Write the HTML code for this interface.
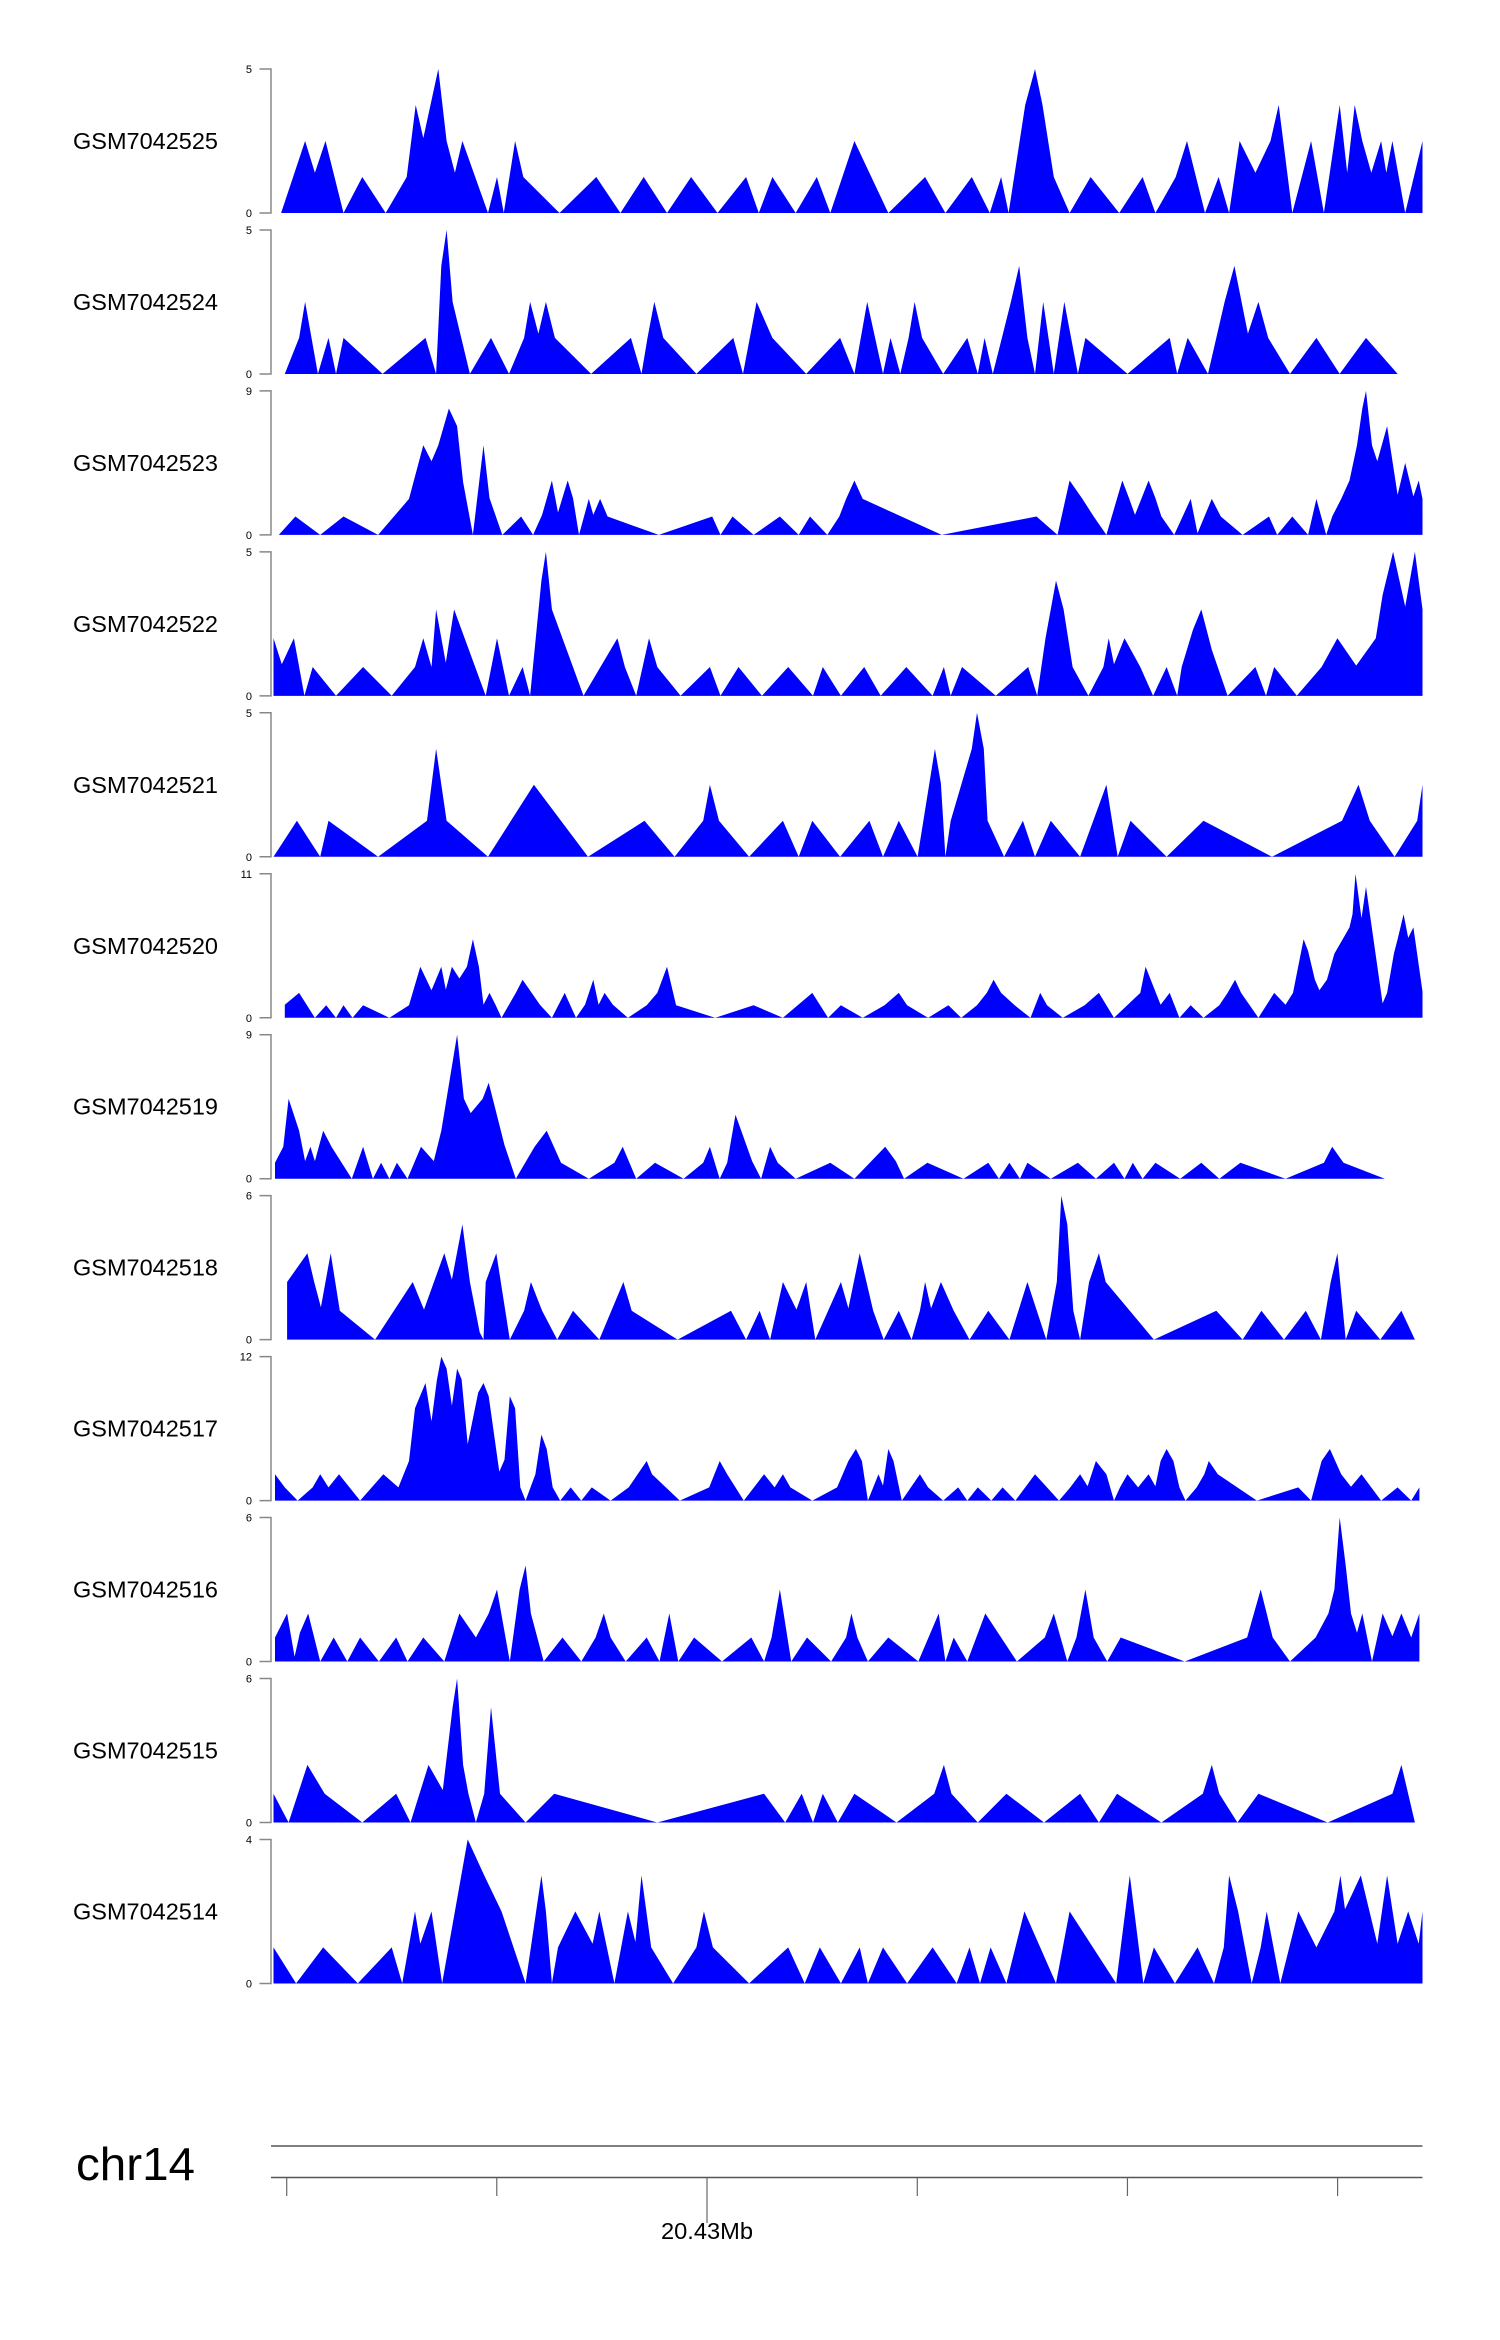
<!DOCTYPE html>
<html><head><meta charset="utf-8"><style>
html,body{margin:0;padding:0;background:#fff;}
svg{display:block;font-family:"Liberation Sans",Arial,sans-serif;}
</style></head>
<body>
<svg id="chart" width="1500" height="2340" viewBox="0 0 1500 2340" xmlns="http://www.w3.org/2000/svg"></svg>
<script>
const sampleNames = ["GSM7042525","GSM7042524","GSM7042523","GSM7042522","GSM7042521","GSM7042520","GSM7042519","GSM7042518","GSM7042517","GSM7042516","GSM7042515","GSM7042514"];
const trackMax = [5,5,9,5,5,11,9,6,12,6,6,4];
const t1 = [[28,0],[60,2.5],[73,1.4],[87,2.5],[111,0],[136,1.25],[167,0],[195,1.25],[207,3.75],[217,2.6],[237,5],[248,2.5],[259,1.4],[269,2.5],[303,0],[315,1.25],[324,0],[339,2.5],[350,1.25],[398,0],[447,1.25],[479,0],[510,1.25],[541,0],[573,1.25],[608,0],[646,1.25],[663,0],[681,1.25],[712,0],[740,1.25],[758,0],[790,2.5],[835,0],[884,1.25],[911,0],[946,1.25],[970,0],[985,1.25],[995,0],[1017,3.75],[1030,5],[1040,3.75],[1055,1.25],[1076,0],[1104,1.25],[1142,0],[1173,1.25],[1190,0],[1217,1.25],[1232,2.5],[1256,0],[1274,1.25],[1288,0],[1302,2.5],[1323,1.4],[1343,2.5],[1354,3.75],[1372,0],[1397,2.5],[1414,0],[1435,3.75],[1445,1.4],[1455,3.75],[1465,2.5],[1477,1.4],[1490,2.5],[1497,1.4],[1505,2.5],[1522,0],[1545,2.5]];
const t2 = [[33,0],[52,1.25],[60,2.5],[77,0],[91,1.25],[101,0],[111,1.25],[163,0],[220,1.25],[234,0],[241,3.75],[248,5],[256,2.5],[279,0],[307,1.25],[331,0],[351,1.25],[359,2.5],[370,1.4],[380,2.5],[392,1.25],[440,0],[493,1.25],[507,0],[515,1.25],[524,2.5],[536,1.25],[580,0],[629,1.25],[642,0],[660,2.5],[681,1.25],[726,0],[771,1.25],[790,0],[807,2.5],[828,0],[838,1.25],[851,0],[862,1.25],[870,2.5],[880,1.25],[908,0],[940,1.25],[954,0],[963,1.25],[974,0],[986,1.25],[998,2.5],[1009,3.75],[1020,1.25],[1030,0],[1041,2.5],[1055,0],[1069,2.5],[1078,1.25],[1087,0],[1097,1.25],[1153,0],[1209,1.25],[1219,0],[1233,1.25],[1260,0],[1282,2.5],[1295,3.75],[1313,1.4],[1327,2.5],[1340,1.25],[1369,0],[1404,1.25],[1435,0],[1470,1.25],[1512,0]];
const t3 = [[25,0],[47,1.15],[80,0],[111,1.15],[157,0],[198,2.25],[217,5.6],[228,4.6],[237,5.6],[251,7.9],[262,6.8],[270,3.3],[283,0],[297,5.6],[305,2.3],[322,0],[347,1.15],[363,0],[375,1.25],[388,3.4],[396,1.4],[409,3.4],[416,2.3],[424,0],[437,2.25],[443,1.25],[452,2.25],[462,1.15],[530,0],[601,1.15],[612,0],[628,1.15],[656,0],[691,1.15],[716,0],[731,1.15],[754,0],[770,1.15],[779,2.25],[790,3.4],[801,2.25],[906,0],[1032,1.15],[1060,0],[1076,3.4],[1093,2.25],[1108,1.15],[1125,0],[1146,3.4],[1155,2.3],[1163,1.25],[1181,3.4],[1190,2.3],[1198,1.15],[1215,0],[1237,2.25],[1246,0.1],[1265,2.25],[1277,1.15],[1306,0],[1341,1.15],[1352,0],[1372,1.15],[1393,0],[1404,2.25],[1417,0],[1425,1.15],[1437,2.25],[1448,3.4],[1458,5.6],[1465,7.9],[1470,9],[1478,5.6],[1485,4.6],[1498,6.8],[1512,2.5],[1522,4.5],[1533,2.4],[1540,3.4],[1545,2.25]];
const t4 = [[18,2],[29,1.1],[45,2],[59,0],[70,1],[101,0],[137,1],[175,0],[206,1],[217,2],[228,1],[234,3],[247,1.15],[258,3],[300,0],[315,2],[331,0],[349,1],[359,0],[374,4],[380,5],[388,3],[430,0],[475,2],[485,1],[500,0],[517,2],[528,1],[559,0],[598,1],[612,0],[636,1],[667,0],[702,1],[735,0],[748,1],[772,0],[803,1],[825,0],[859,1],[894,0],[909,1],[918,0],[933,1],[978,0],[1021,1],[1033,0],[1044,2],[1058,4],[1068,3],[1080,1],[1101,0],[1121,1],[1128,2],[1135,1.1],[1149,2],[1170,1],[1187,0],[1205,1],[1219,0],[1225,1],[1240,2.3],[1251,3],[1265,1.6],[1286,0],[1323,1],[1337,0],[1348,1],[1378,0],[1411,1],[1432,2],[1457,1.05],[1483,2],[1492,3.5],[1506,5],[1522,3.1],[1535,5],[1545,3]];
const t5 = [[18,0],[49,1.25],[80,0],[91,1.25],[157,0],[222,1.25],[234,3.75],[248,1.25],[303,0],[364,2.5],[436,0],[511,1.25],[551,0],[589,1.25],[598,2.5],[610,1.25],[650,0],[695,1.25],[716,0],[734,1.25],[771,0],[810,1.25],[828,0],[849,1.25],[874,0],[897,3.75],[905,2.55],[911,0],[918,1.25],[946,3.75],[953,5],[962,3.75],[967,1.25],[989,0],[1014,1.25],[1030,0],[1051,1.25],[1090,0],[1125,2.5],[1140,0],[1157,1.25],[1205,0],[1254,1.25],[1345,0],[1438,1.25],[1460,2.5],[1475,1.25],[1508,0],[1538,1.25],[1545,2.5]];
const t6 = [[33,1],[52,1.9],[73,0],[88,0.95],[101,0],[111,0.95],[123,0],[137,0.95],[172,0],[198,0.95],[213,3.9],[228,2.1],[241,3.9],[247,2.15],[255,3.9],[265,3],[275,3.9],[283,6],[291,3.9],[297,1],[305,1.9],[313,1],[321,0],[340,1.9],[349,2.9],[372,1],[388,0],[405,1.9],[420,0],[432,1],[443,2.9],[450,1],[458,1.9],[469,1],[489,0],[514,0.95],[528,1.9],[541,3.9],[553,0.95],[605,0],[656,0.95],[695,0],[734,1.9],[755,0],[772,0.95],[801,0],[830,0.95],[849,1.9],[860,0.95],[888,0],[915,0.95],[932,0],[953,0.95],[966,1.9],[975,2.9],[985,1.9],[1003,0.95],[1024,0],[1037,1.9],[1046,0.95],[1067,0],[1096,0.95],[1115,1.9],[1135,0],[1170,1.9],[1177,3.9],[1197,1],[1209,1.9],[1222,0],[1237,0.95],[1254,0],[1275,0.95],[1286,1.9],[1296,2.9],[1304,1.9],[1327,0],[1348,1.9],[1363,1],[1373,1.9],[1387,6],[1393,5.1],[1402,2.9],[1408,2.1],[1418,2.9],[1428,4.9],[1448,6.9],[1452,7.9],[1456,11],[1464,7.6],[1470,10],[1492,1.1],[1498,1.9],[1507,4.9],[1512,6],[1520,7.9],[1526,6.1],[1533,6.9],[1545,2]];
const t7 = [[20,1],[31,2],[38,5],[52,3],[60,1.1],[67,2],[73,1.1],[84,3],[95,2],[122,0],[137,2],[150,0],[161,1],[172,0],[182,1],[196,0],[214,2],[231,1.1],[241,3],[262,9],[271,5],[280,4.1],[296,5],[304,6],[325,2.1],[340,0],[365,2],[381,3],[400,1],[437,0],[471,1],[482,2],[500,0],[525,1],[563,0],[589,1],[598,2],[611,0],[621,1],[632,4],[654,1.1],[666,0],[678,2],[688,1],[712,0],[758,1],[790,0],[831,2],[845,1.1],[856,0],[887,1],[935,0],[968,1],[982,0],[996,1],[1010,0],[1020,1],[1051,0],[1087,1],[1111,0],[1135,1],[1149,0],[1160,1],[1173,0],[1190,1],[1223,0],[1251,1],[1275,0],[1303,1],[1363,0],[1414,1],[1425,2],[1440,1],[1495,0]];
const t8 = [[36,2.4],[63,3.6],[72,2.4],[81,1.35],[94,3.6],[106,1.2],[153,0],[203,2.4],[218,1.25],[245,3.6],[255,2.5],[269,4.8],[279,2.4],[292,0.3],[297,0],[300,2.4],[314,3.6],[332,0],[351,1.2],[360,2.4],[375,1.2],[395,0],[416,1.2],[451,0],[483,2.4],[494,1.2],[555,0],[626,1.2],[646,0],[664,1.2],[678,0],[695,2.4],[713,1.25],[726,2.4],[738,0],[772,2.4],[782,1.3],[797,3.6],[815,1.2],[829,0],[849,1.2],[866,0],[877,1.2],[884,2.4],[892,1.3],[905,2.4],[922,1.2],[943,0],[968,1.2],[996,0],[1020,2.4],[1045,0],[1059,2.4],[1065,6],[1073,4.8],[1081,1.2],[1090,0],[1102,2.4],[1115,3.6],[1124,2.4],[1188,0],[1271,1.2],[1306,0],[1331,1.2],[1361,0],[1390,1.2],[1410,0],[1423,2.4],[1432,3.6],[1443,0],[1457,1.2],[1489,0],[1517,1.2],[1535,0]];
const t9 = [[20,2.2],[33,1.1],[50,0],[70,1.1],[80,2.2],[91,1.1],[105,2.2],[133,0],[164,2.2],[184,1.1],[198,3.3],[206,7.7],[220,9.8],[228,6.6],[235,10],[241,12],[248,11],[255,7.9],[262,11],[268,10.1],[276,4.7],[290,9],[297,9.8],[304,8.7],[318,2.4],[325,3.4],[332,8.7],[339,7.7],[346,1.1],[353,0],[366,2.2],[374,5.5],[381,4.3],[389,1.1],[399,0],[413,1.1],[427,0],[441,1.1],[466,0],[490,1.1],[514,3.3],[521,2.2],[558,0],[597,1.1],[611,3.3],[621,2.2],[643,0],[670,2.2],[684,1.1],[695,2.2],[705,1.1],[734,0],[767,1.1],[782,3.3],[792,4.3],[800,3.3],[808,0],[822,2.2],[828,1.25],[835,4.3],[842,3.3],[853,0],[877,2.2],[888,1.1],[908,0],[928,1.1],[940,0],[954,1.1],[972,0],[987,1.1],[1004,0],[1030,2.2],[1046,1.1],[1062,0],[1077,1.1],[1090,2.2],[1100,1.2],[1111,3.3],[1125,2.2],[1135,0],[1143,1.1],[1153,2.2],[1167,1.1],[1181,2.2],[1190,1.2],[1197,3.3],[1205,4.3],[1214,3.3],[1222,1.1],[1230,0],[1245,1.1],[1255,2.2],[1261,3.3],[1273,2.2],[1325,0],[1380,1.1],[1397,0],[1411,3.3],[1422,4.3],[1437,2.2],[1450,1.15],[1464,2.2],[1490,0],[1512,1.1],[1530,0],[1541,1.1]];
const t10 = [[20,1],[36,2],[46,0.2],[53,1.2],[64,2],[80,0],[98,1],[116,0],[133,1],[158,0],[181,1],[196,0],[217,1],[245,0],[265,2],[287,1],[304,2],[315,3],[332,0],[345,3],[353,4],[360,2],[377,0],[402,1],[427,0],[446,1],[457,2],[466,1],[486,0],[514,1],[531,0],[544,2],[556,0],[577,1],[614,0],[653,1],[670,0],[680,1],[691,3],[706,0],[727,1],[759,0],[779,1],[786,2],[794,1],[808,0],[835,1],[875,0],[902,2],[911,0],[922,1],[940,0],[964,2],[1006,0],[1043,1],[1055,2],[1073,0],[1085,1],[1097,3],[1108,1],[1126,0],[1144,1],[1229,0],[1312,1],[1330,3],[1346,1],[1369,0],[1403,1],[1420,2],[1428,3],[1435,6],[1443,4],[1450,2],[1458,1.2],[1465,2],[1478,0],[1492,2],[1505,1.05],[1517,2],[1530,1],[1541,2]];
const t11 = [[18,1.2],[38,0],[63,2.4],[86,1.2],[136,0],[181,1.2],[200,0],[224,2.4],[243,1.35],[256,4.8],[262,6],[270,2.4],[277,1.2],[287,0],[298,1.2],[307,4.8],[319,1.2],[353,0],[391,1.2],[528,0],[670,1.2],[698,0],[720,1.2],[735,0],[748,1.2],[768,0],[790,1.2],[846,0],[896,1.2],[909,2.4],[919,1.2],[954,0],[992,1.2],[1042,0],[1090,1.2],[1115,0],[1139,1.2],[1198,0],[1253,1.2],[1265,2.4],[1275,1.2],[1299,0],[1327,1.2],[1419,0],[1505,1.2],[1517,2.4],[1535,0]];
const t12 = [[18,1],[48,0],[84,1],[130,0],[175,1],[189,0],[206,2],[213,1.1],[228,2],[242,0],[276,4],[298,3],[321,2],[353,0],[374,3],[380,2],[388,0],[396,1],[419,2],[442,1.1],[451,2],[471,0],[489,2],[499,1.15],[507,3],[520,1],[549,0],[580,1],[590,2],[602,1],[650,0],[702,1],[724,0],[744,1],[772,0],[797,1],[808,0],[828,1],[860,0],[894,1],[926,0],[943,1],[957,0],[971,1],[992,0],[1016,2],[1058,0],[1076,2],[1138,0],[1156,3],[1174,0],[1188,1],[1216,0],[1246,1],[1268,0],[1281,1],[1288,3],[1300,2],[1318,0],[1330,1],[1338,2],[1356,0],[1380,2],[1404,1],[1428,2],[1436,3],[1442,2.06],[1463,3],[1485,1.1],[1498,3],[1512,1.1],[1526,2],[1540,1.1],[1545,2]];
const tracks = [t1,t2,t3,t4,t5,t6,t7,t8,t9,t10,t11,t12];
const genomeTicks = [35.5, 314.7, 594.1, 873.6, 1152.9, 1432.2];
const genomeTickLabels = ["", "", "20.43Mb", "", "", ""];
const genomeEnd = 1545;

const NS = "http://www.w3.org/2000/svg";
const svg = document.getElementById("chart");
function xScale(p){ return 260 + p * 0.7524; }
function mk(tag, attrs, parent){
  const e = document.createElementNS(NS, tag);
  for (const k in attrs) e.setAttribute(k, attrs[k]);
  (parent||svg).appendChild(e);
  return e;
}
const H = 144, STEP = 160.95;
tracks.forEach((data, i) => {
  const base = 213 + i*STEP, top = base - H, mx = trackMax[i];
  const yS = v => base - v/mx*H;
  const g = mk("g", {});
  
  
  const lab = mk("text", {x:73, y:(top+base)/2+8, "font-size":23, fill:"#000", textLength:145, lengthAdjust:"spacingAndGlyphs"}, g);
  lab.textContent = sampleNames[i];
  
  
  const ax = mk("path", {d:`M259.5 ${top}H271V${base}H259.5`, fill:"none", stroke:"#888", "stroke-width":1.5}, g);
  
  
  const tmax = mk("text", {x:252, y:top+4, "font-size":11, "text-anchor":"end", fill:"#000"}, g);
  tmax.textContent = String(mx);
  
  
  const tmin = mk("text", {x:252, y:base+4, "font-size":11, "text-anchor":"end", fill:"#000"}, g);
  tmin.textContent = "0";
  
  
  let d = `M${xScale(data[0][0]).toFixed(1)} ${base}`;
  data.forEach(p => { d += `L${xScale(p[0]).toFixed(1)} ${yS(p[1]).toFixed(1)}`; });
  d += `L${xScale(data[data.length-1][0]).toFixed(1)} ${base}Z`;
  const area = mk("path", {d, fill:"#0000ff", stroke:"none"}, g);
  
  
});
// genome axis
const ga = mk("g", {});


const chr = mk("text", {x:76, y:2180, "font-size":46, fill:"#000", textLength:119, lengthAdjust:"spacingAndGlyphs"}, ga);
chr.textContent = "chr14";


const xEnd = xScale(genomeEnd);
const l1 = mk("line", {x1:271, x2:xEnd, y1:2146, y2:2146, stroke:"#555", "stroke-width":1.5}, ga);


const l2 = mk("line", {x1:271, x2:xEnd, y1:2177.5, y2:2177.5, stroke:"#555", "stroke-width":1.5}, ga);


genomeTicks.forEach((t, i) => {
  const x = xScale(t);
  const hasLab = genomeTickLabels[i] !== "";
  const tk = mk("line", {x1:x, x2:x, y1:2177.5, y2: hasLab ? 2223 : 2196, stroke:"#666", "stroke-width":1.2}, ga);
  
  
  if (hasLab) {
    const tl = mk("text", {x:x, y:2239, "font-size":23, "text-anchor":"middle", fill:"#000", textLength:92, lengthAdjust:"spacingAndGlyphs"}, ga);
    tl.textContent = genomeTickLabels[i];
    
    
  }
});
</script>
</body></html>
